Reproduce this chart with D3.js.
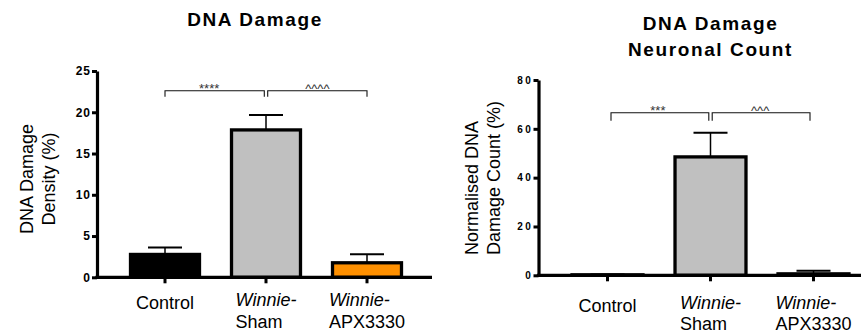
<!DOCTYPE html>
<html>
<head>
<meta charset="utf-8">
<script src="https://cdn.jsdelivr.net/npm/d3@7"></script>
<style>
  html, body { margin: 0; padding: 0; background: #fff; }
  svg { display: block; font-family: "Liberation Sans", Arial, Helvetica, sans-serif; }
</style>
</head>
<body>
<script>
// Groups shared by both panels
const categories = ["Control", "Winnie-Sham", "Winnie-APX3330"];
const categoryLines = [["Control"], ["Winnie-", "Sham"], ["Winnie-", "APX3330"]];
const categoryItalic = [[false], [true, false], [true, false]];
const barColors = ["#000000", "#c0c0c0", "#ff9000"];

// Panel A: DNA damage density (%), mean and SEM
const densityMean = [2.77, 17.86, 1.76];
const densitySem = [0.83, 1.8, 1.03];
const densityTicks = [0, 5, 10, 15, 20, 25];
const densitySig = ["****", "^^^^"];
const densityBracket = 22.6;

// Panel B: normalised DNA damage neuronal count (%), mean and SEM
const countMean = [0.2, 48.5, 0.6];
const countSem = [0.1, 9.9, 1.3];
const countTicks = [0, 20, 40, 60, 80];
const countSig = ["***", "^^^"];
const countBracket = 66.6;

const svg = d3.select("body").append("svg")
  .attr("width", 866).attr("height", 334);

const panels = [
  {
    mean: densityMean, sem: densitySem, ticks: densityTicks, sig: densitySig, bracket: densityBracket,
    title: ["DNA Damage"], titleX: 255, titleY: [26],
    yLabel: ["DNA Damage", "Density (%)"], yLabelX: [33, 55], yLabelY: 179, yLabelAnchor: "middle",
    axisX: 97, baseY: 277.3, topY: 71, xEnd: 432, xRange: [114.5, 417.5], pad: 0.317,
    tickFont: 12, tickSpacing: 1, tickX: 91,
    bracketLeg: 6, bracketInset: 0, bracketGap: 1.7, sigDx: [-5.5, 0],
    labelSingle: 31.7, labelFirst: 28.7, labelStep: 21.5
  },
  {
    mean: countMean, sem: countSem, ticks: countTicks, sig: countSig, bracket: countBracket,
    title: ["DNA Damage", "Neuronal Count"], titleX: 710.5, titleY: [29.5, 56],
    yLabel: ["Normalised DNA", "Damage Count (%)"], yLabelX: [478, 500], yLabelY: 255, yLabelAnchor: "start",
    axisX: 538.5, baseY: 275.3, topY: 80, xEnd: 861, xRange: [556, 865], pad: 0.311,
    tickFont: 10, tickSpacing: 2.6, tickX: 533.5,
    bracketLeg: 8, bracketInset: 3.5, bracketGap: 1.7, sigDx: [-2, -1],
    labelSingle: 36.7, labelFirst: 34, labelStep: 20.3
  }
];

panels.forEach(p => {
  const g = svg.append("g");
  const domainMax = p.ticks[p.ticks.length - 1];

  const x = d3.scaleBand().domain(categories).range(p.xRange)
    .paddingInner(p.pad).paddingOuter(p.pad / 2);
  const y = d3.scaleLinear().domain([0, domainMax]).range([p.baseY, p.topY]);
  const cx = c => x(c) + x.bandwidth() / 2;

  // Title
  const title = g.append("text")
    .attr("text-anchor", "middle")
    .attr("font-weight", "bold").attr("font-size", 19)
    .attr("letter-spacing", 1.6).attr("fill", "#000");
  p.title.forEach((t, i) => title.append("tspan").attr("x", p.titleX).attr("y", p.titleY[i]).text(t));

  // Y axis title (rotated)
  p.yLabel.forEach((t, i) => {
    g.append("text")
      .attr("transform", `translate(${p.yLabelX[i]},${p.yLabelY}) rotate(-90)`)
      .attr("text-anchor", p.yLabelAnchor)
      .attr("font-size", 18).attr("fill", "#000")
      .text(t);
  });

  // Error bars (drawn first so the bar outline covers the stem base)
  const eb = g.append("g");
  categories.forEach((c, i) => {
    const yTop = y(p.mean[i] + p.sem[i]);
    eb.append("line")
      .attr("x1", cx(c)).attr("x2", cx(c))
      .attr("y1", y(p.mean[i])).attr("y2", yTop)
      .attr("stroke", "#000").attr("stroke-width", 1.5);
    eb.append("line")
      .attr("x1", cx(c) - 17).attr("x2", cx(c) + 17)
      .attr("y1", yTop).attr("y2", yTop)
      .attr("stroke", "#000").attr("stroke-width", 2);
  });

  // Bars
  g.append("g").selectAll("rect")
    .data(categories)
    .join("rect")
    .attr("x", c => x(c))
    .attr("width", x.bandwidth())
    .attr("y", (c, i) => y(p.mean[i]))
    .attr("height", (c, i) => p.baseY - y(p.mean[i]))
    .attr("fill", (c, i) => barColors[i])
    .attr("stroke", "#000")
    .attr("stroke-width", 3.3);

  // Y axis
  const yAxis = g.append("g")
    .attr("transform", `translate(${p.axisX},0)`)
    .call(d3.axisLeft(y).tickValues(p.ticks).tickSize(5).tickSizeOuter(0).tickPadding(0));
  yAxis.select(".domain").attr("stroke", "#000").attr("stroke-width", 3.2);
  yAxis.selectAll(".tick line").attr("stroke", "#000").attr("stroke-width", 3);
  yAxis.selectAll(".tick text")
    .attr("x", p.tickX - p.axisX)
    .attr("font-family", "\"Liberation Sans\", Arial, sans-serif")
    .attr("font-size", p.tickFont).attr("font-weight", "bold")
    .attr("letter-spacing", p.tickSpacing).attr("fill", "#000");

  // X baseline and ticks
  g.append("line")
    .attr("x1", p.axisX - 1.6).attr("x2", p.xEnd)
    .attr("y1", p.baseY).attr("y2", p.baseY)
    .attr("stroke", "#000").attr("stroke-width", 3.2);
  const xAxis = g.append("g")
    .attr("transform", `translate(0,${p.baseY})`)
    .call(d3.axisBottom(x).tickSize(6).tickSizeOuter(0).tickFormat(""));
  xAxis.select(".domain").remove();
  xAxis.selectAll(".tick line").attr("stroke", "#000").attr("stroke-width", 3);

  // Category labels: multi-line blocks are left-aligned and centred on the tick
  categories.forEach((c, i) => {
    const lines = categoryLines[i];
    const t = g.append("text").attr("font-size", 18).attr("fill", "#000");
    const spans = lines.map((ln, j) => t.append("tspan")
      .attr("font-style", categoryItalic[i][j] ? "italic" : "normal")
      .text(ln));
    const widths = spans.map(s => s.node().getComputedTextLength());
    const w = d3.max(widths);
    const left = cx(c) - w / 2;
    spans.forEach((s, j) => {
      const yy = lines.length === 1 ? p.baseY + p.labelSingle : p.baseY + p.labelFirst + j * p.labelStep;
      s.attr("x", left).attr("y", yy);
    });
  });

  // Significance brackets
  const by = y(p.bracket);
  const pairs = [
    [cx(categories[0]) + p.bracketInset, cx(categories[1]) - p.bracketGap],
    [cx(categories[1]) + p.bracketGap, cx(categories[2]) - p.bracketInset]
  ];
  pairs.forEach(([a, b], k) => {
    g.append("path")
      .attr("d", `M${a},${by + p.bracketLeg}V${by}H${b}V${by + p.bracketLeg}`)
      .attr("fill", "none").attr("stroke", "#111").attr("stroke-width", 1.1);
    g.append("text")
      .attr("x", (a + b) / 2 + p.sigDx[k]).attr("y", by + 2)
      .attr("text-anchor", "middle")
      .attr("font-size", 13).attr("fill", "#333")
      .text(p.sig[k]);
  });
});
</script>
</body>
</html>
